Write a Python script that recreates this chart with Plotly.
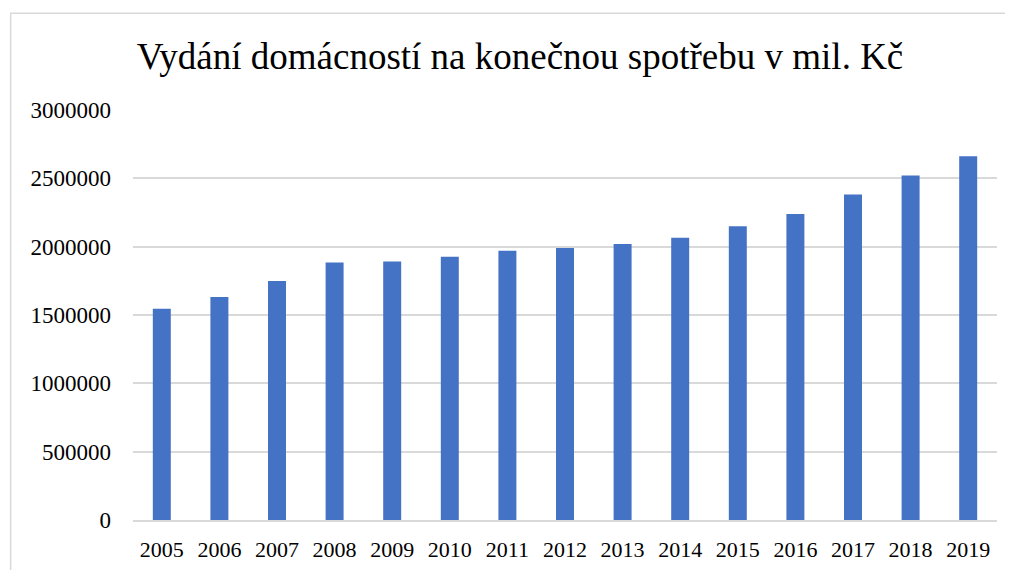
import plotly.graph_objects as go

years = ["2005", "2006", "2007", "2008", "2009", "2010", "2011", "2012",
         "2013", "2014", "2015", "2016", "2017", "2018", "2019"]
values = [1546000, 1632000, 1749000, 1885000, 1892000, 1927000, 1971000, 1990000,
          2020000, 2066000, 2149000, 2239000, 2381000, 2520000, 2661000]
y_ticks = [0, 500000, 1000000, 1500000, 2000000, 2500000, 3000000]
title_text = "Vydání domácností na konečnou spotřebu v mil. Kč"

# page has an 8px body margin; figure coordinates = page coordinates - 8
OFF = 8
W, H = 1013 - OFF, 570 - OFF
L, R, T, B = 132.5 - OFF, 15.5, 110 - OFF, 50.2
pw, ph = W - L - R, H - T - B

def px(x):
    return (x - OFF - L) / pw

def py(y):
    return (H - B - (y - OFF)) / ph

fig = go.Figure()
fig.add_trace(go.Bar(
    x=years, y=values,
    marker=dict(color="#4472C4", line=dict(width=0)),
))

fig.update_layout(
    width=W, height=H,
    margin=dict(l=L, r=R, t=T, b=B, autoexpand=False),
    paper_bgcolor="white", plot_bgcolor="white",
    bargap=0.688,
    showlegend=False,
    font=dict(family="Liberation Serif", color="black"),
    title=dict(text=title_text, x=(520 - OFF) / W, xanchor="center",
               y=1 - (56 - OFF) / H, yanchor="middle", yref="container",
               font=dict(family="Liberation Serif", size=37, color="black")),
    shapes=[dict(type="rect", xref="paper", yref="paper",
                 x0=px(10), x1=px(1030), y0=py(600), y1=py(13.3),
                 line=dict(color="#d9d9d9", width=1.5), fillcolor="rgba(0,0,0,0)",
                 layer="below")],
)
fig.update_xaxes(
    type="category", showgrid=False, ticks="", showline=True,
    linecolor="#d9d9d9", linewidth=1.5, automargin=False,
    tickfont=dict(family="Liberation Serif", size=22, color="black"),
    ticklabelstandoff=9,
)
fig.update_yaxes(
    range=[0, 3000000], tickvals=y_ticks, ticktext=[str(v) for v in y_ticks],
    showgrid=True, gridcolor="#d9d9d9", gridwidth=1.5,
    zeroline=False, showline=False, ticks="", automargin=False,
    tickfont=dict(family="Liberation Serif", size=23, color="black"),
    ticklabelstandoff=21,
)

fig.write_html("out.html")
